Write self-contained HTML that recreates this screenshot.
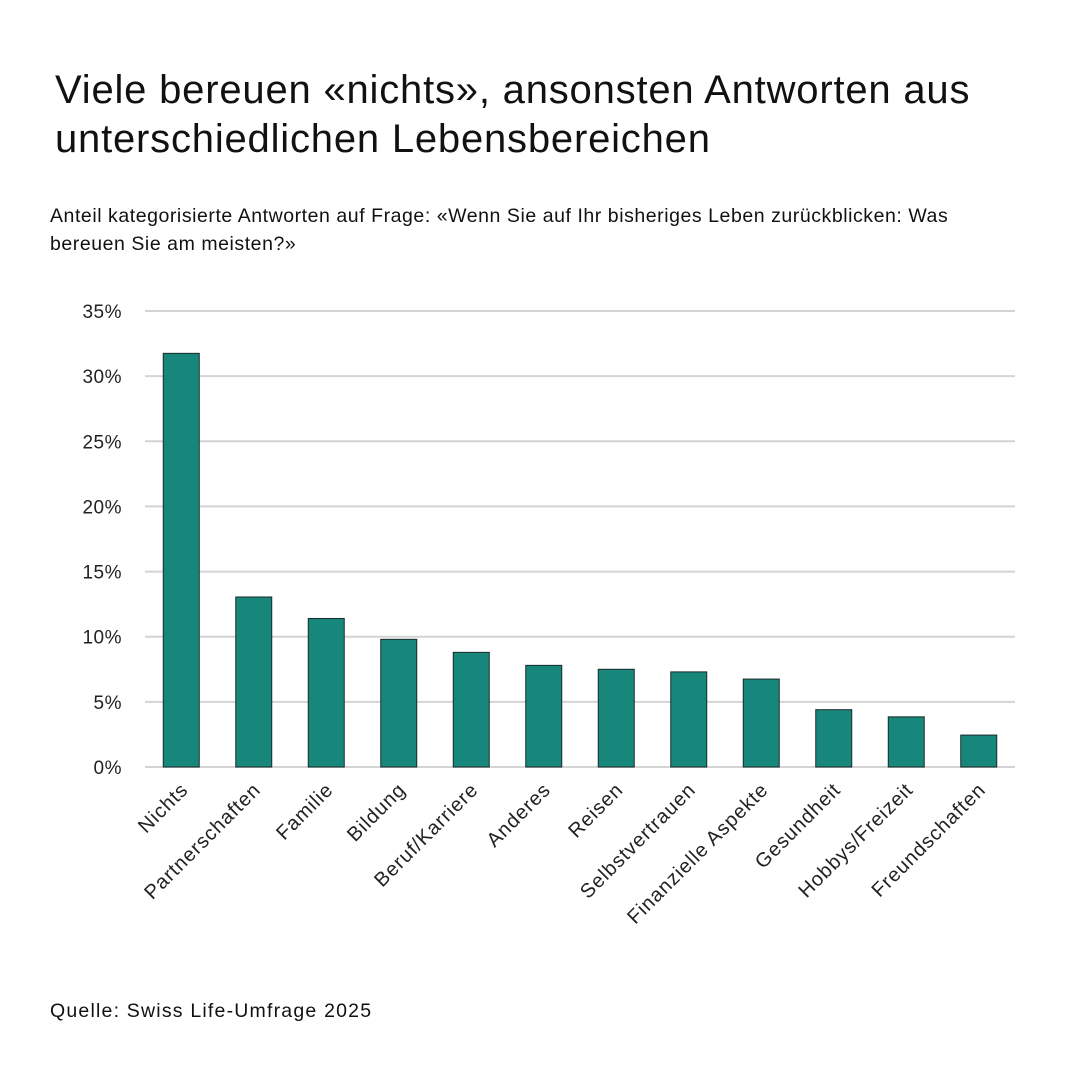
<!DOCTYPE html>
<html><head><meta charset="utf-8"><style>
body{margin:0;background:#fff;width:1080px;height:1080px;overflow:hidden;font-family:"Liberation Sans",sans-serif;color:#111}
#title{position:absolute;left:55px;top:66px;font-size:40px;line-height:49px;margin:0;font-weight:normal;letter-spacing:0.8px}
#sub{position:absolute;left:50px;top:202px;font-size:19.5px;line-height:28px;width:1030px;letter-spacing:0.55px;white-space:nowrap}
#src{position:absolute;left:50px;top:1000px;font-size:19.5px;letter-spacing:1.2px}
svg{position:absolute;left:0;top:0}
</style></head><body>
<h1 id="title">Viele bereuen «nichts», ansonsten Antworten aus<br>unterschiedlichen Lebensbereichen</h1>
<div id="sub">Anteil kategorisierte Antworten auf Frage: «Wenn Sie auf Ihr bisheriges Leben zurückblicken: Was<br>bereuen Sie am meisten?»</div>
<div id="src">Quelle: Swiss Life-Umfrage 2025</div>
<svg id="chart" width="1080" height="1080"></svg>
<script>
const categories=["Nichts","Partnerschaften","Familie","Bildung","Beruf/Karriere","Anderes","Reisen","Selbstvertrauen","Finanzielle Aspekte","Gesundheit","Hobbys/Freizeit","Freundschaften"];
const values=[31.75,13.05,11.4,9.8,8.8,7.8,7.5,7.3,6.75,4.4,3.85,2.45];
const ticks=[0,5,10,15,20,25,30,35];
const tickLabels=["0%","5%","10%","15%","20%","25%","30%","35%"];
const svg=document.getElementById('chart');
const NS='http://www.w3.org/2000/svg';
const x0=145,x1=1015,y0=767,yTop=311,maxV=35;
const y=v=>y0-(v/maxV)*(y0-yTop);
const step=(x1-x0)/categories.length;
const xc=i=>x0+step*(i+0.5);
const bw=36;
function mk(t,a){const e=document.createElementNS(NS,t);for(const k in a)e.setAttribute(k,a[k]);svg.appendChild(e);return e;}
ticks.forEach((t,i)=>{
 const g=mk('line',{x1:x0,x2:x1,y1:y(t),y2:y(t),stroke:'#d4d4d4','stroke-width':2});
 
 
 const l=mk('text',{x:122,y:y(t)+7,'text-anchor':'end','font-size':19,fill:'#222','font-family':'Liberation Sans, sans-serif','letter-spacing':0.5});
 l.textContent=tickLabels[i];
 
 
});
categories.forEach((c,i)=>{
 const b=mk('rect',{x:xc(i)-bw/2,y:y(values[i]),width:bw,height:y0-y(values[i]),fill:'#17877c',stroke:'#1a2a28','stroke-width':1});
 
 
 const t=mk('text',{x:0,y:0,'text-anchor':'end','font-size':20,fill:'#222','font-family':'Liberation Sans, sans-serif','letter-spacing':0.9,transform:`translate(${xc(i)+8},${y0+24}) rotate(-45)`});
 t.textContent=c;
 
 
});
</script>
</body></html>
